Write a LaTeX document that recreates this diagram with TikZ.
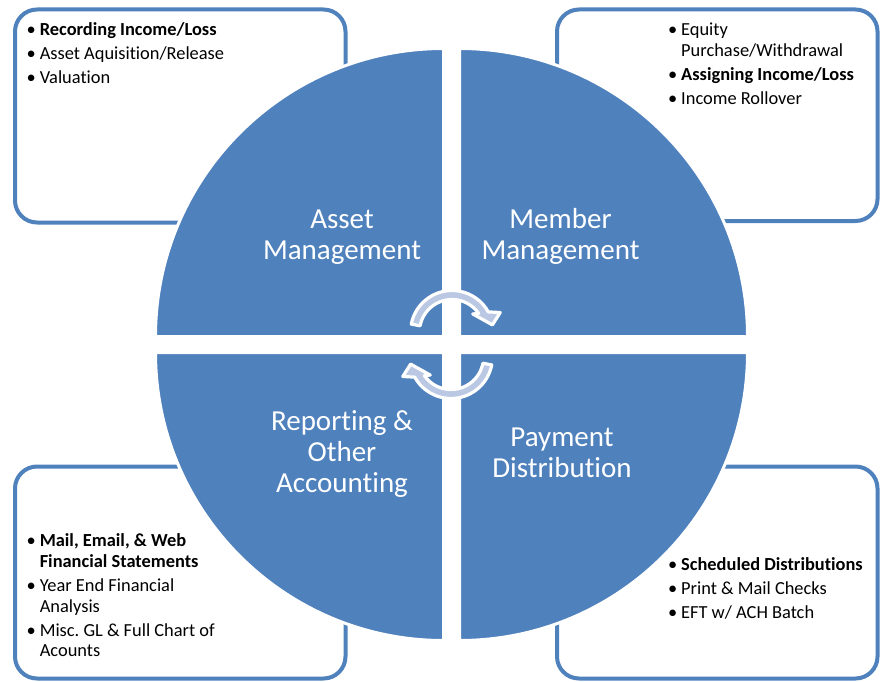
\documentclass[tikz,border=0pt]{standalone}
\usepackage{fontspec}
\setmainfont{Carlito}[Ligatures={NoCommon}]
\frenchspacing

\definecolor{quadblue}{RGB}{79,129,189}
\definecolor{arrowfill}{RGB}{186,200,228}
\newcommand{\itemfont}{\fontsize{13.8}{15.5}\selectfont}
\newcommand{\quadfont}{\fontsize{21.75}{23.4}\selectfont}
\newcommand{\bitem}[1]{\llap{\textbullet\hspace{3pt}}\begin{tabular}[t]{@{}l@{}}#1\end{tabular}}
\newcommand{\qlabel}[1]{\begin{tabular}[t]{@{}c@{}}#1\end{tabular}}

\tikzset{every picture/.style={line width=0.75pt}}

\begin{document}
\begin{tikzpicture}[x=0.75pt,y=0.75pt,yscale=-1,xscale=1,
	infobox/.style={draw=quadblue,line width=3pt,rounded corners=16.5pt,fill=white},
	quadrant/.style={fill=quadblue,draw=white,line width=2.25pt},
	bullettext/.style={anchor=base west,inner sep=0pt,font=\itemfont,text=black},
	quadtext/.style={anchor=base,inner sep=0pt,font=\quadfont,text=white},
	cyclearrow/.style={fill=arrowfill,draw=white,line width=2.4pt,line join=round}]
	\useasboundingbox (0,0) rectangle (880,681);

	%Rounded Rect top left
	\draw [infobox] (15,9.5) rectangle (345.5,222.5);
	%Rounded Rect top right
	\draw [infobox] (557,9.5) rectangle (877.5,221);
	%Rounded Rect bottom left
	\draw [infobox] (15,466.5) rectangle (345.5,678.5);
	%Rounded Rect bottom right
	\draw [infobox] (557,466.5) rectangle (877.5,678.5);

	%Quarter circles
	\draw [quadrant] (443.5,336.5) -- (155.5,336.5) arc [start angle=180, end angle=270, radius=288] -- cycle;
	\draw [quadrant] (459.5,336.5) -- (459.5,48.5) arc [start angle=270, end angle=360, radius=288] -- cycle;
	\draw [quadrant] (443.5,352.5) -- (443.5,640.5) arc [start angle=90, end angle=180, radius=288] -- cycle;
	\draw [quadrant] (459.5,352.5) -- (747.5,352.5) arc [start angle=0, end angle=90, radius=288] -- cycle;

	%Curved arrows
	\begin{scope}[shift={(452,332)}]
		\draw [cyclearrow] (191:41.5) arc [start angle=191, end angle=331, radius=41.5] -- (338:52) -- (350:41) -- (319:27.5) -- (325:32.5) arc [start angle=325, end angle=191, radius=32.5] -- cycle;
	\end{scope}
	\begin{scope}[shift={(451,357)}, rotate=180]
		\draw [cyclearrow] (191:41.5) arc [start angle=191, end angle=331, radius=41.5] -- (338:52) -- (350:41) -- (319:27.5) -- (325:32.5) arc [start angle=325, end angle=191, radius=32.5] -- cycle;
	\end{scope}

	% Text Node
	\node [quadtext] (assetlbl) at (342,228.3) {\qlabel{Asset\\Management}};
	% Text Node
	\node [quadtext] (memberlbl) at (560.5,228.3) {\qlabel{Member\\Management}};
	% Text Node
	\node [quadtext] (reportlbl) at (342,430) {\qlabel{Reporting \&\\Other\\Accounting}};
	% Text Node
	\node [quadtext] (paymentlbl) at (562,446.7) {\qlabel{Payment\\Distribution}};

	% Text Node
	\node [bullettext] (assetA) at (39.3,36) {\bitem{\textbf{Recording Income/Loss}}};
	\node [bullettext] (assetB) at (39.3,60) {\bitem{Asset Aquisition/Release}};
	\node [bullettext] (assetC) at (39.3,84) {\bitem{Valuation}};
	% Text Node
	\node [bullettext] (memberA) at (680.7,36) {\bitem{Equity\\Purchase/Withdrawal}};
	\node [bullettext] (memberB) at (680.7,81) {\bitem{\textbf{Assigning Income/Loss}}};
	\node [bullettext] (memberC) at (680.7,104.3) {\bitem{Income Rollover}};
	% Text Node
	\node [bullettext] (reportA) at (39.3,546.7) {\bitem{\textbf{Mail, Email, \& Web}\\\textbf{Financial Statements}}};
	\node [bullettext] (reportB) at (39.3,591.7) {\bitem{Year End Financial\\Analysis}};
	\node [bullettext] (reportC) at (39.3,636) {\bitem{Misc. GL \& Full Chart of\\Acounts}};
	% Text Node
	\node [bullettext] (paymentA) at (680.7,570.7) {\bitem{\textbf{Scheduled Distributions}}};
	\node [bullettext] (paymentB) at (680.7,594.3) {\bitem{Print \& Mail Checks}};
	\node [bullettext] (paymentC) at (680.7,618.3) {\bitem{EFT w/ ACH Batch}};

\end{tikzpicture}
\end{document}
